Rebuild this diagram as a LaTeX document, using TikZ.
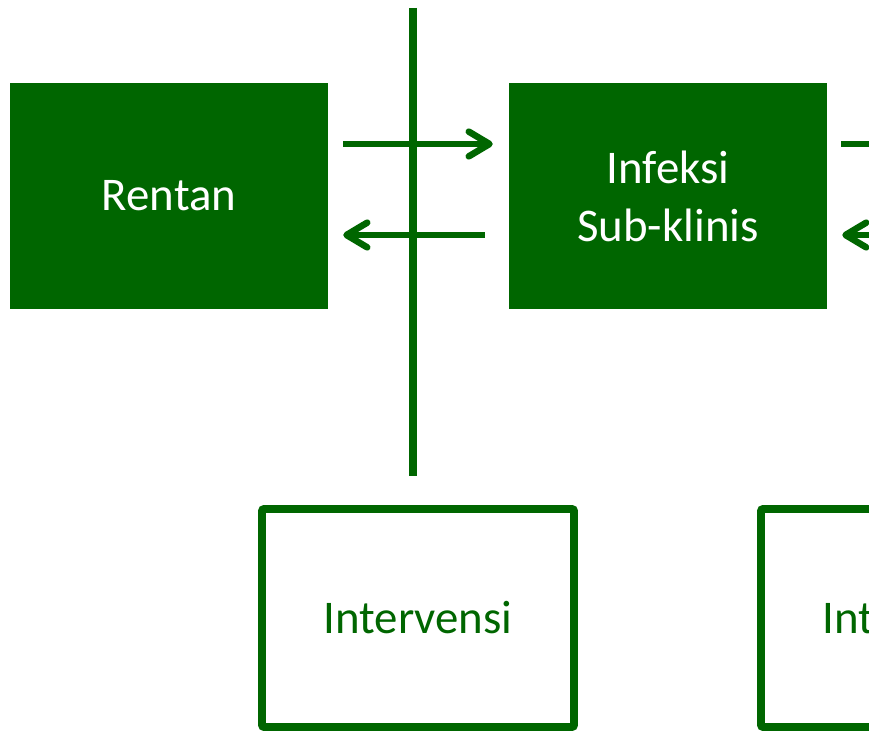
\documentclass[tikz,border=0pt]{standalone}
\usepackage{fontspec}
\setmainfont{Carlito}
\usetikzlibrary{arrows.meta}
\definecolor{hijau}{RGB}{0,102,0}

\begin{document}
\begin{tikzpicture}[x=0.03cm,y=-0.03cm,
	tahap/.style={fill=hijau,text=white,minimum width=9.54cm,minimum height=6.78cm,inner sep=0pt,align=center,font=\fontsize{40}{49.5}\selectfont},
	intv/.style={draw=hijau,line width=6.8pt,rounded corners=2pt,text=hijau,minimum width=9.36cm,minimum height=6.54cm,inner sep=0pt,font=\fontsize{40}{49.5}\selectfont},
	panah/.style={draw=hijau,line width=5.6pt,-{Straight Barb[length=0.62cm,width=0.74cm,round]}}]
	\useasboundingbox (0,0) rectangle (869,734);
	\clip (0,0) rectangle (869,734);
	% tahap
	\node[tahap] (rentan) at (169,196) {Rentan};
	\node[tahap] (subklinis) at (668,196) {Infeksi\\Sub-klinis};
	\coordinate (klinis) at (1167,196);
	% intervensi
	\node[intv] (intv1) at (418,618) {Intervensi};
	\node[intv] (intv2) at (917,618) {Intervensi};
	% garis batas
	\coordinate (atas) at (413,8);
	\coordinate (bawah) at (413,476);
	\draw[hijau,line width=6.2pt] (atas) -- (bawah);
	% panah
	\draw[panah,shorten <=0.45cm,shorten >=0.48cm] ([yshift=1.56cm]rentan.east) -- ([yshift=1.56cm]subklinis.west);
	\draw[panah,shorten <=0.72cm,shorten >=0.45cm] ([yshift=-1.17cm]subklinis.west) -- ([yshift=-1.17cm]rentan.east);
	\draw[panah,shorten <=0.42cm,shorten >=0.48cm] ([yshift=1.56cm]subklinis.east) -- ([yshift=1.56cm,xshift=-4.77cm]klinis);
	\draw[panah,shorten <=0.72cm,shorten >=0.45cm] ([yshift=-1.17cm,xshift=-4.77cm]klinis) -- ([yshift=-1.17cm]subklinis.east);
\end{tikzpicture}
\end{document}
